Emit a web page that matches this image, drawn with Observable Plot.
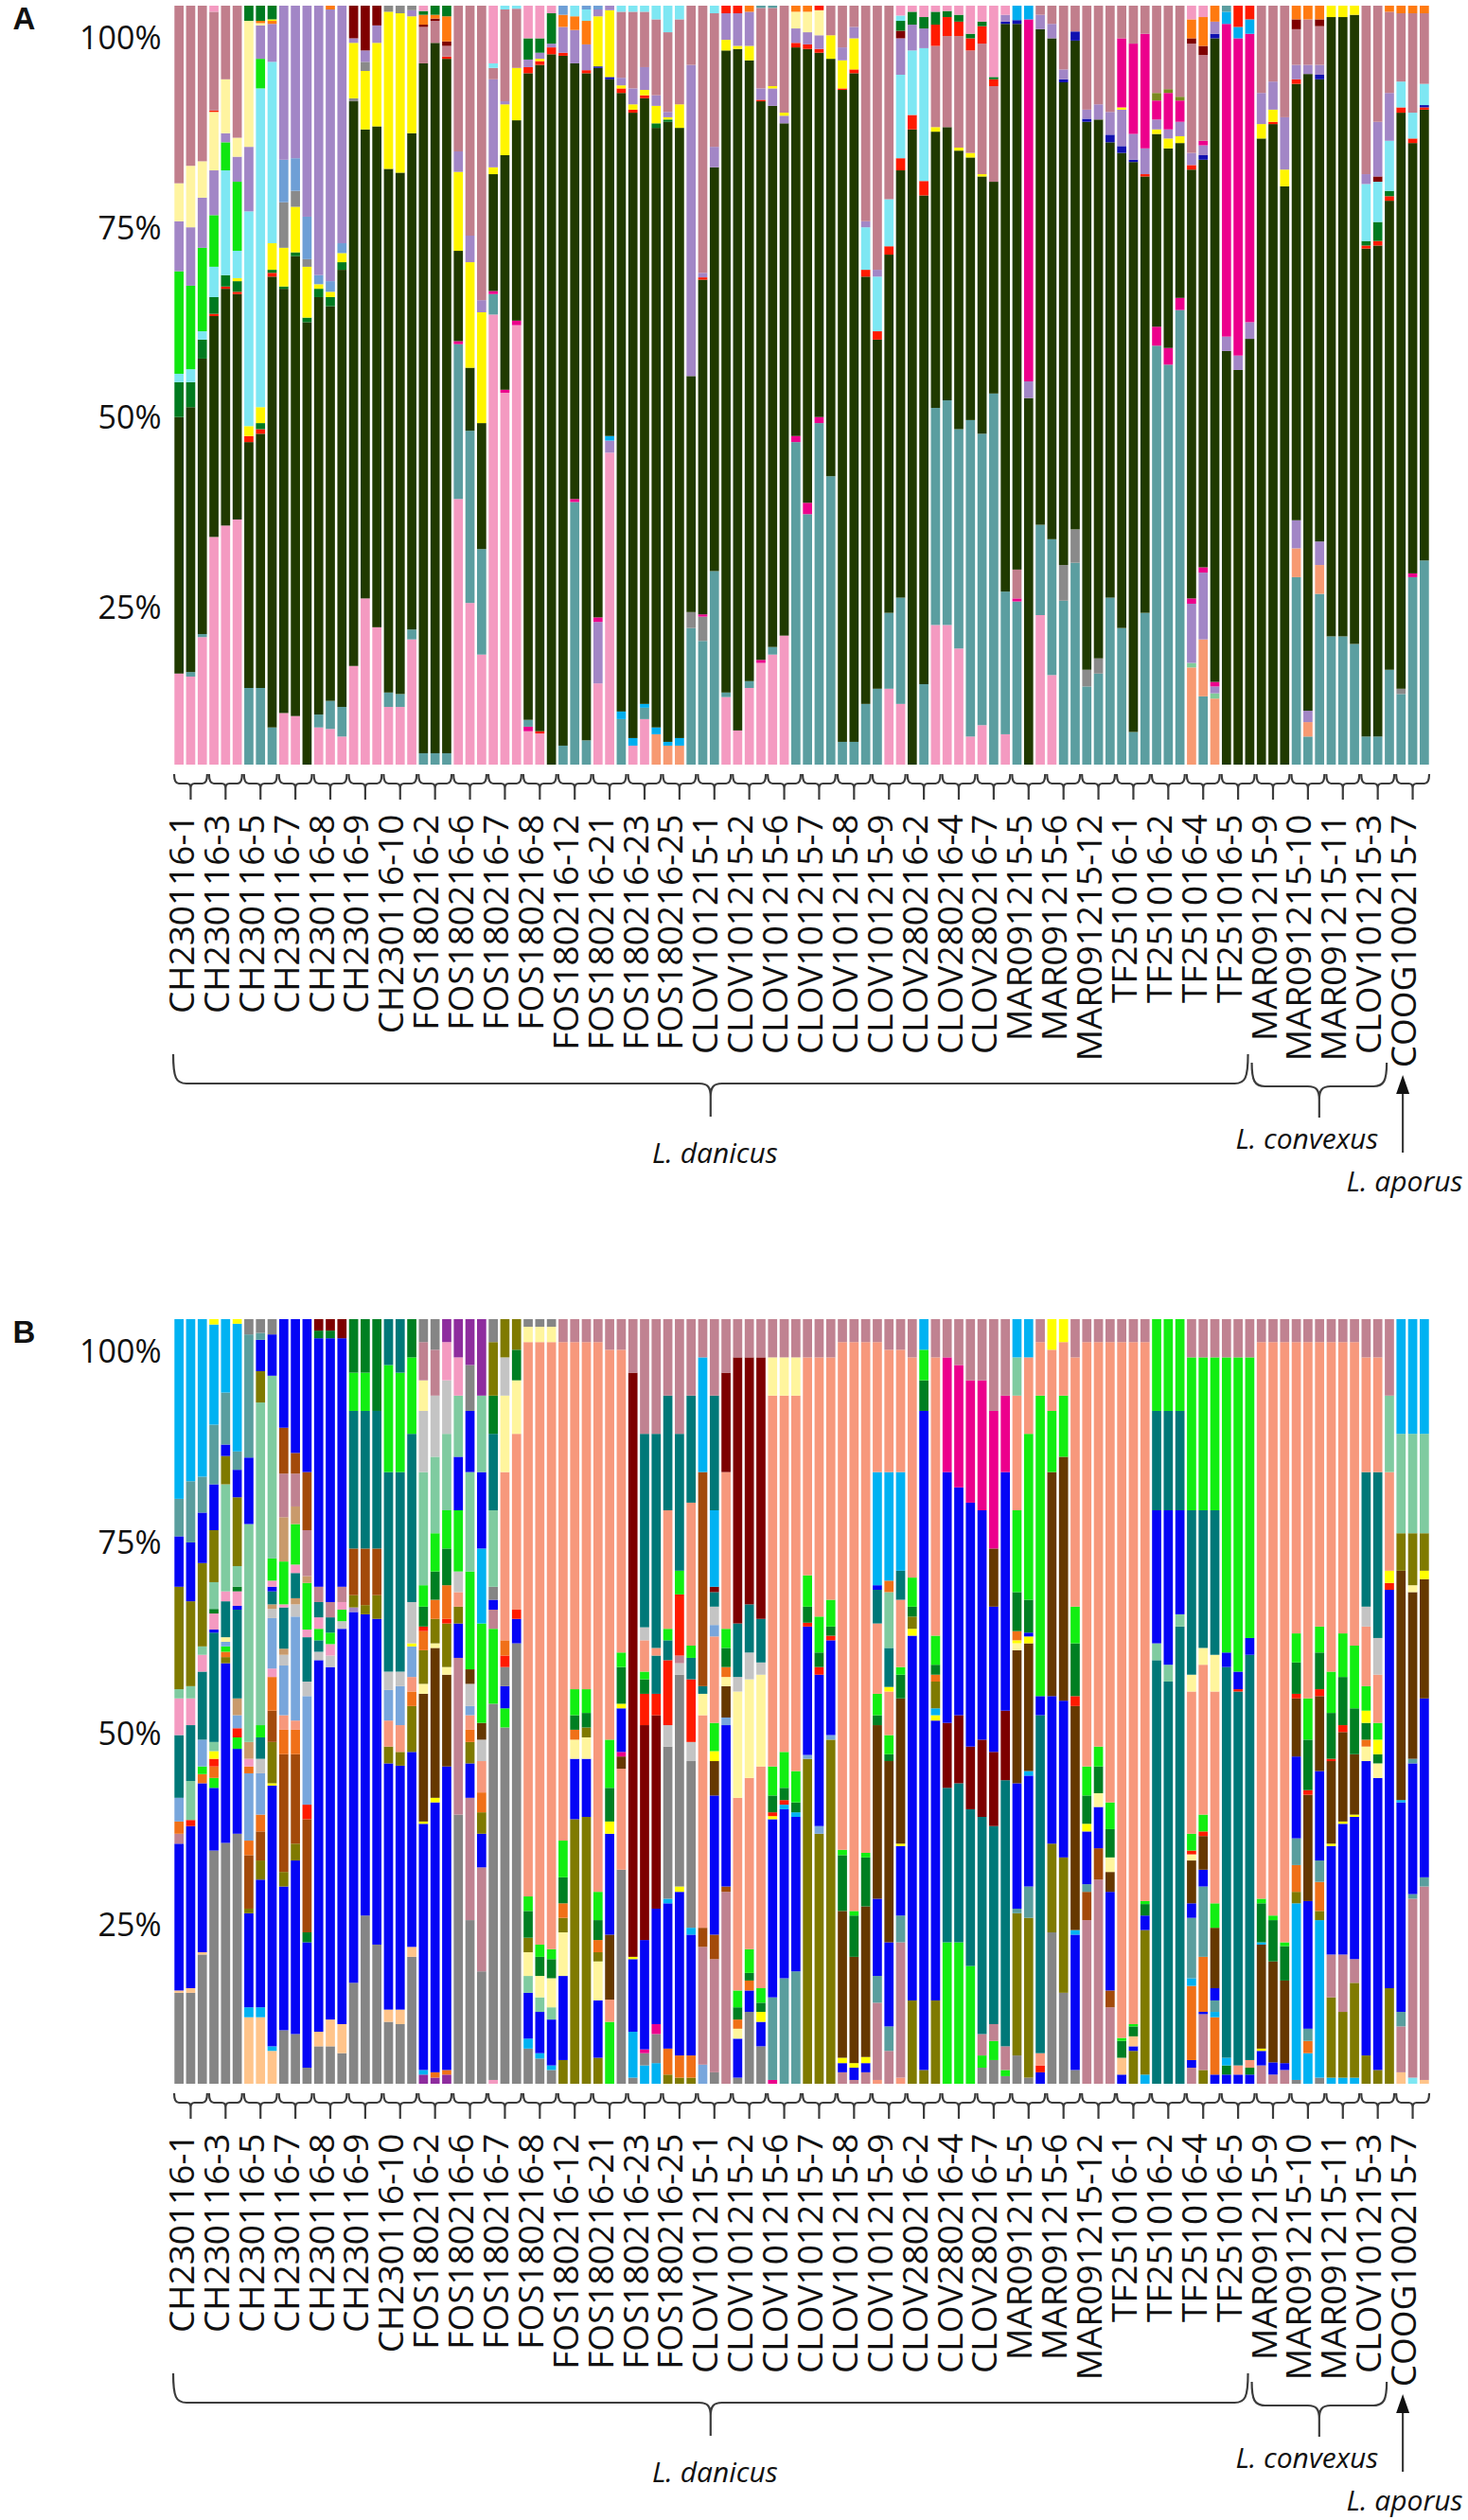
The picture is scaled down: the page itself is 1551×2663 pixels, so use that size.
<!DOCTYPE html>
<html><head><meta charset="utf-8">
<script src="https://cdn.jsdelivr.net/npm/d3@7"></script>
<script src="https://cdn.jsdelivr.net/npm/@observablehq/plot@0.6"></script>
<style>
html,body{margin:0;padding:0;background:#fff;}
#chart{width:1551px;}
#chart svg{display:block;}
</style></head><body><div id="chart"></div>
<script>
// ---------- categories ----------
const samples = ["CH230116-1","CH230116-3","CH230116-5","CH230116-7","CH230116-8","CH230116-9","CH230116-10",
"FOS180216-2","FOS180216-6","FOS180216-7","FOS180216-8","FOS180216-12","FOS180216-21","FOS180216-23","FOS180216-25",
"CLOV101215-1","CLOV101215-2","CLOV101215-6","CLOV101215-7","CLOV101215-8","CLOV101215-9",
"CLOV280216-2","CLOV280216-4","CLOV280216-7","MAR091215-5","MAR091215-6","MAR091215-12",
"TF251016-1","TF251016-2","TF251016-4","TF251016-5","MAR091215-9","MAR091215-10","MAR091215-11",
"CLOV101215-3","COOG100215-7"];
const species = [
  {name:"L. danicus", first:0, last:30},
  {name:"L. convexus", first:31, last:34},
  {name:"L. aporus", first:35, last:35}
];
const yTicks = [25, 50, 75, 100];

// ---------- taxon colours ----------
const colorsA = {pk:"#F49AC1", te:"#5B9EA0", sa:"#F79A72", sk:"#00AEEF", gy:"#8A8A8A", lv:"#A286C6", mg:"#EC008C",
 dg:"#203A00", rd:"#FF1A00", gn:"#007A1F", ye:"#FFF500", sb:"#6E9FD6", cy:"#7EE7F3", bg:"#10E610", ly:"#FFF4A0",
 mv:"#C17E8C", or:"#FF7A10", dr:"#7F0000", db:"#1010B0", ol:"#7A8A20", mt:"#80CC99"};
const colorsB = {gy:"#858585", bl:"#0505F5", sk:"#00B2F2", tb:"#5A9E9E", ol:"#7F7A00", dt:"#007878", mt:"#7FCBA0",
 lb:"#78A6DC", or:"#F07018", br:"#A34A0A", db:"#663800", dr:"#7D0000", sa:"#F7987C", bg:"#12EE12", gn:"#007F22",
 ly:"#FFF59D", pc:"#FFC48A", mv:"#C08291", pk:"#F49AC1", hp:"#EC008C", rd:"#FF1A00", lg:"#C4C4C4", tn:"#C99A6B",
 pu:"#8E2C9E", ye:"#FFFF00", lv:"#A286C6", cy:"#7EE7F3"};

// ---------- panel A: cumulative segment tops (%) per bar, bottom -> top ----------
const A_CH = [
"pk12 dg45.8 gn50.4 cy51.5 bg65 lv71.6 ly76.6 mv100",
"pk11.6 te12.2 dg47.1 gn50.4 cy52.1 bg63.1 lv70.8 ly78.9 mv100",
"pk16.8 te17.2 dg53.5 gn56 cy57.1 bg68.1 lv74.7 ly79.5 mv100",
"pk30 dg59.1 rd59.4 gn61.6 cy65.6 bg72.4 lv78.3 ly86 rd86.2 mv99.2 pk100",
"pk31.5 dg62.7 rd63 gn64.5 cy78.3 bg82 lv83.2 ly90.3 mv100",
"pk32.3 dg62 rd62.3 gn63.7 ye64.1 cy67.7 bg76.8 lv80.1 ly82.6 mv100",
"te10.1 dg42.5 rd43.3 ye44.6 cy72.9 lv81.4 ly98 gn100",
"te10.1 dg43.6 rd44.2 gn45 ye47.1 cy89.1 bg93 lv97.4 ly97.7 or98 gn100",
"te4.9 dg64.3 rd64.8 gn65.2 ye68.7 cy92.6 lv97.6 or98 ye98.2 gn100",
"pk6.8 dg62.7 gn63 ye68.1 gy74.1 sb79.7 lv100",
"pk6.4 dg67 gn67.5 ye73.5 gy75.6 sb79.9 lv100",
"dg58.3 gn58.9 ye65.6 gy66.6 sb72.2 lv100",
"pk4.9 te6.6 dg61.6 gn62.7 ye63.3 sb64.5 lv100",
"pk4.7 te8.4 dg60.4 gn61.6 ye62.3 sb63.7 lv99.5 or100",
"pk3.7 te7.6 dg65.2 gn66.2 ye67.4 sb68.7 lv100",
"pk13 dg87.4 gy87.8 ye95.1 lv95.7 dr100",
"pk21.9 dg83.7 ye91.4 gy92.6 lv94.1 dr100",
"pk18.1 dg84.1 ye95.1 lv97.4 dr100",
"pk7.6 te9.5 dg78.5 ye99.2 gy100",
"pk7.6 te9.3 dg78 ye99 gy100",
"pk16.5 te17.8 dg83.2 ye98.6 lv99.4 gy100"];
const A_FOS = [
"te1.5 dg92.4 mv97.2 dr97.5 or98.8 gn99.3 pk100",
"te1.5 dg95.1 mv98 dr98.3 or98.8 gn100",
"te1.5 dg93 rd93.3 mv94.7 dr95.3 or98.6 gn100",
"pk35 te55.4 mg55.8 dg67.7 ye78.1 lv80.8 mv100",
"pk21.3 te44 dg52.3 ye66.2 lv69.7 mv100",
"pk14.5 te28.4 dg45 ye59.6 lv61.2 mv100",
"pk59.3 te62 mg62.4 dg77.8 ye78.7 lv90.3 mv91.8 cy92.4 pk100",
"pk49 mg49.4 dg80.3 ye87 lv87.4 mv99.5 cy100",
"pk57.9 mg58.5 dg84.9 ye91.8 mv99.6 cy100",
"pk4.4 mg5 te5.9 dg91.1 rd91.9 lv92.9 gn95.7 pk100",
"pk4.1 rd4.4 dg92.2 rd92.7 ye93 lv93.8 gn95.7 pk100",
"dg93.6 rd94.5 lv95 gn99 pk100",
"te2.5 dg93.4 rd93.8 lv97.2 or98.8 sb100",
"te34.6 mg35 dg92.4 lv96.8 or98.6 cy100",
"te3.2 dg91.1 rd91.5 lv94.9 or98 cy99.5 sb100",
"pk10.7 lv18.8 mg19.4 dg91.8 db92 ye98.6 lv99.5 sb100",
"pk41.1 lv42.7 sk43.3 dg90.3 db90.6 ye99.4 lv100",
"te6 sk7 dg88.5 rd89.1 ye89.5 lv90.5 mv99.2 cy100",
"pk2.5 sk3.5 dg85.9 rd86.3 ye87 lv89.1 mv99.2 cy100",
"pk6 te7.5 sk8 dg87.8 rd88.2 ye88.9 lv91.9 mv99.2 cy100",
"sa4 sk4.9 dg83.9 gn84.5 ye86.8 lv88.2 mv98.2 cy100",
"sa2.5 sk3 dg84.7 gn85 ye85.3 lv86 mv96.5 cy100",
"sa2.5 sk3.5 dg83.9 ye87 mv98.2 cy100",
"te18 gy20.1 dg51.2 lv92.2 mv100"];
const A_CLOV1 = [
"te16.3 gy19.5 mg19.8 dg63.9 rd64.2 lv64.8 mv100",
"te25.5 dg78.7 lv81.4 mv99 cy100",
"pk8.9 te9.5 dg94.1 ye95.5 lv99 rd100",
"pk4.5 dg94.3 ye94.7 lv99 rd100",
"pk10.1 te11 dg92.8 ye94.7 lv99.2 or100",
"pk13.4 mg13.8 dg87.4 rd87.6 lv89.1 mv99.7 te100",
"pk14.5 te15.5 dg86.8 lv89.1 ye89.4 mv99.7 te100",
"pk17 dg84.5 lv85.5 ye85.9 mv100",
"te42.5 mg43.3 dg94.5 rd95.1 lv97 ly99.2 or100",
"te33 mg34.5 dg94.3 rd94.9 lv96.5 ly99.2 or100",
"te45 mg45.8 dg93.8 rd94.3 lv96.1 ly99.4 rd100",
"te38 dg93 ye96.1 mv100",
"te3 dg88.9 rd89.1 ye92.8 lv94.5 mv100",
"te3 dg91.1 rd91.6 ye95.7 lv97.2 mv100",
"te8 dg64.3 rd65.2 cy70.8 lv71.6 mv100",
"te10 dg56 rd57.1 cy64.3 lv65.2 mv100",
"pk10 te20 dg67.2 rd68.3 cy74.5 mv100",
"pk8 te22 dg78.3 rd79.9 cy90.9 lv95.7 dr96.7 gn98 cy98.7 pk100"];
const A_CLOV2 = [
"dg83.7 rd85.6 cy94.1 lv97.5 gn99.2 pk100",
"te10.6 dg75 rd76.9 cy94.4 lv97 gn98.5 pk100",
"pk18.4 te47 dg83.4 ye84 mv94.7 rd97.5 gn99.2 pk100",
"pk18.4 te48 dg84 mv96 rd98.5 gn99.3 pk100",
"pk15.3 te44.2 dg80.9 ye81.3 mv96 rd97.9 gn98.8 pk100",
"pk3.7 te45.4 dg80 ye80.6 mv94.1 rd95.7 gn96.3 pk100",
"pk5.2 te43.6 dg77.5 ye77.8 mv95 rd97.3 gn97.9 pk100",
"te48.9 dg76.8 mv89.4 rd90.3 gn90.6 pk100",
"pk4 te22.8 dg97.6 db97.9 lv98.8 pk100"];
const A_MAR1 = [
"te21.5 mg21.9 mv25.7 dg97.6 db98.1 sk100",
"dg48.3 lv50.5 mg98.2 sk100",
"pk19.7 te31.6 dg96.9 lv98.8 mv100",
"pk11.8 te29.7 dg95.7 lv97.6 mv100",
"te21.6 gy26.3 dg89.9 db90.3 lv91.6 mv100",
"te26.6 gy31 dg95.4 db96.6 mv100",
"te10.3 gy12.5 dg84.7 db85.1 lv86.3 mv100",
"te12 gy14 dg85 lv87 mv100",
"te22 dg82 db83 lv86 mv100"];
const A_TF = [
"te18 dg80.6 db81.5 lv86.3 ye86.6 mg95.7 mv100",
"te4.3 dg79.4 db79.7 lv83.1 mg95 mv100",
"te20 dg77.5 rd77.8 lv81.2 mg96.3 mv100",
"te55.2 mg57.7 dg83.1 ye83.7 lv85 mg87.5 ol88.5 mv100",
"te52.7 mg54.9 dg81.2 ye82.5 lv83.7 mg88.5 ol89 mv100",
"te59.9 mg61.5 dg81.9 ye82.8 lv84.7 mg87.5 ol88 mv100",
"sa12.8 mt13.4 lv21.2 mg21.9 dg78.4 rd79 lv80.6 mv95 dr95.7 or98.2 pk100",
"te9 sa16.5 lv25.3 mg26 dg79.7 db80.3 lv81.6 mg82.2 mv93.5 dr94.7 or98.5 pk100",
"sa8.7 mt9.4 lv10.3 mg10.9 dg95.7 db96.3 lv97.9 or100",
"dg54.5 lv56.4 mg97.6 sk99.2 te100",
"dg52 lv53.9 mg95.7 sk97.2 rd100",
"dg56.1 lv58.3 mg96.3 sk98.2 rd100"];
const A_MAR2 = [
"dg82.5 ye84.4 lv88.5 mv100",
"dg84.4 rd84.7 ye86.3 lv90 mv100",
"dg76.2 ye78.4 lv85.3 mv100",
"te24.7 sa28.5 lv32.2 dg89.7 rd90.3 lv92.2 mv96.9 dr98.2 or100",
"te3.7 sa5.6 lv7.1 dg91 lv92.2 mv98.2 or100",
"te22.5 sa26.3 lv29.4 dg90.3 db90.9 lv92.2 mv97.3 dr98.2 or100",
"te16.9 dg98.5 ye100",
"te16.9 dg98.5 ye100",
"te15.9 dg98.8 ye100"];
const A_CLOV3 = [
"te3.7 dg68 rd68.4 gn69 cy76.5 lv77.8 mv100",
"te3.7 dg68.4 rd69 gn71.5 cy76.8 dr77.5 lv84.7 mv100",
"te12.5 dg74.3 rd74.9 gn75.6 cy82.2 lv88.5 mv99.2 or100"];
const A_COOG = [
"te9.3 gy10 dg85.9 rd86.6 cy90 mv99 or100",
"te24.7 mg25.2 dg81.9 rd82.5 cy85.9 mv99 or100",
"te26.9 dg86.3 rd86.6 db86.9 cy89.7 mv99 or100"];

// ---------- panel B ----------
const B_CH = [
"gy11.9 pc12.2 bl31.4 mv32.7 or34.3 lb37.4 dt45.6 pk50.4 mt51.6 ol65 bl71.6 tb76.5 sk100",
"gy11.9 pc12.5 bl33.7 rd34.5 mt39.6 dt46.9 pk50.4 mt52 ol63.1 bl70.8 tb78.8 sk100",
"gy16.9 pc17.2 bl39.3 or40.5 bg41.5 lb45 dt53.9 pk56.1 mt57.2 ol68.1 bl74.7 tb79.4 sk100",
"gy30.5 bl38.7 bg40 or41.5 rd42.5 ye43.5 mt44.7 dt59 bl59.4 pk61.5 gn62.1 mt65.6 ol72.4 bl78.4 tb86.2 sk99.3 ye100",
"gy31.5 bl55 ol55.8 or56.5 bg57.2 lb57.8 ly58.4 dt63.1 pk64.4 mt78.4 ol82.1 bl83.6 tb90.4 sk100",
"gy32.7 bl43.8 bg45.3 rd46.5 lb48.2 tn50.4 dt62 bl62.5 pk64.4 gn65 mt67.7 ol76.7 bl80.3 tb82.7 sk99.4 ye100",
"pc8.7 sk10 bl22.3 ol22.9 br29.9 or31.8 lb40.6 or41.5 pk42.5 tn44.7 mt73.2 bl81.9 tb98 gy100",
"pc8.7 sk10 bl26.7 ol29.2 br33 or35.2 lb40.6 lg42.5 dt45.3 bg46.9 mt89.1 ol93.2 bl97.3 tb98.2 gy100",
"pc4.3 sk4.9 bl39 ye39.3 ol44.7 br48.8 or53.2 pk54.3 lb60.9 lg62.1 tn62.7 dt64.4 bl65 pk65.8 bg68.7 mt92.6 bl98 gy100",
"gy7 bl25.8 ol27.7 br43.1 or46.3 sa48.2 lb54.7 lg56.1 tn56.9 dt62.3 pk62.7 bg68.3 tn74.1 mv79.8 br85.8 bl100",
"gy6.5 bl29.2 ol31.4 br43.1 or46.3 sa47.5 lb61.1 lg62.7 tn63.5 dt66.8 pk67.9 bg73.2 tn75.5 mv79.8 br82.5 bl100",
"gy2.1 bl18.5 gn19.8 br34.6 rd36.5 lb50.7 lg52.6 dt58.4 pk59.4 bg65.5 tn66.4 mv72.4 br80 bl100",
"gy4.9 pc6.8 bl55.4 lg56.5 dt58 bg59.5 pk61 dt63 mv65 bl97.5 gn98.5 dr100",
"gy4.9 pc8.4 bl54.5 lg56 pk57.5 bg59 dt61 mv63 bl97.5 gn98.5 dr100",
"gy4 pc7.8 bl59.5 lg60.5 bg62 pk63 mv65 bl97.5 dr100",
"gy13.2 bl61.7 lv62.3 ol63.9 br70 dt88 bg93 gn100",
"gy22 bl61.4 ol62.6 br70 dt88 bg93 gn100",
"gy18.2 bl60.8 ol63.9 br70 dt88 gn100",
"gy8.1 pc9.7 bl41.9 ol44.1 sa47.5 lb51.5 lg53.9 dt80 bg94 dt100",
"gy7.8 pc9.7 bl41.6 ol43.4 sa46.9 lb52 lg53.9 dt80 bg93 dt100",
"gy16.6 pc17.9 bl43.4 ol49.4 or51.3 sa53.2 lb57.2 ye57.6 lg63 dt85 bg95 gn100"];
const B_FOS = [
"pu1.2 sk1.8 bl34 ye34.3 db51 ly52.3 ol56.7 or59.2 rd59.8 gn62.4 bg65.2 mt80 lg88 ly92 mv97 gy100",
"pu0.8 or1.5 bl36.8 ye37.4 db57 ly57.6 ol60.8 or63.3 gn67 bg72 mt82 lg90 mv96 gy100",
"pu1.2 or1.8 bl41.5 db53.5 ly54.5 ol60.2 rd60.8 or65.2 gn70 bg75 mt85 lg92 pk97 pu100",
"gy35.2 mv55.7 bl60.2 ol62.4 sa64.3 lg67 bg75 bl82 mt90 pk95 pu100",
"gy21.4 mv37.4 bl41.9 ol44.7 or46.3 sa48.2 lb49.4 lg52.3 db54.2 bg67 mt80 bl88 gy94 pu100",
"gy14.7 mv28.3 bl32.7 ol35.5 or38.1 sa42.2 lg45 db47.2 bg60.2 sk70 bl80 mt90 pu100",
"pk0.5 gy49.7 bg59.5 mv62 bl63.3 gy65 mt75 dt85 gn90 ol97 gy100",
"gy46.6 bg49.1 bl52 gy54.5 rd56 or58 sa80 ly90 lg95 ol100",
"gy57.6 bl60.8 rd62 sa85 ly92 gn96 ol100",
"gy4.6 sk5.9 bl11.9 mt14.1 ly17.2 ol19.1 gn22.6 bg24.5 sa97 ly99 gy100",
"gy3.3 sk4 bl9.4 mt11.3 ly14.1 gn16.6 bg18.2 sa97 ly99 gy100",
"gy1.8 sk2.4 bl8.4 mt10 ly13.8 gn16.3 bg17.6 sa97 ly99 gy100",
"ol3.1 bl14.1 ly19.8 ol21.7 or23.6 gn27 bg31.8 sa97 mv100",
"ol34.6 bl42.5 ly45 or46.3 gn48.2 bg51.6 sa97 mv100",
"ol34.9 bl42.5 ly45.3 ol46.6 gn48.5 bg51.6 sa97 mv100",
"ol3.4 bl10.9 ly16 ol17.2 or18.8 gn21.4 bg25.1 sa97 mv100",
"bg8.1 sa11 db19.5 bl32.7 ye34.3 gn38.7 bg45 sa96 mv100",
"gy28 sa41.2 db42.8 hp43.4 bl49.1 ye49.7 gn54.5 bg56.4 sa96 mv100",
"gy0.8 sk6.8 bl16.3 ye16.6 dr93 mv100",
"sk2.4 gy4 hp4.5 bl18.8 dr46.9 rd51 gn52.9 bg53.9 sa58 lg59.7 dt85 mv100",
"sk2.7 gy6.5 hp7.8 bl22.9 dr48.2 rd51 dt56 sa57 dt85 mv100",
"ol1.2 or4.6 bl23.6 sk24.2 gy44.1 lg46.9 rd55.4 dt58 bg59.5 sa75 dt90 mv100",
"ol0.8 or3.7 bl25.1 ye25.8 gy53.5 lg55 mv56 rd64 bg67.1 dt85 mv100",
"ol0.8 or3.7 bl19.5 sk20.4 gy42.2 lg44.7 rd52.9 dt55.7 bg57.3 sa76 dt90 mv100"];
const B_CLOV1 = [
"lb2.5 mv17.9 br20.4 sa48.2 ly51 dt52 br80 sk95 mv100",
"gy1.5 mv16.3 br19.5 bl37.7 db42.2 ye43.5 bg47.2 sa58.5 lb60 lg62.4 dt64.3 dr65 sk75 dt90 mv100",
"mv25.1 br25.8 bl46.9 lb47.9 db52 ly53.2 or54.5 gn57 bg59.5 sa80 dr93 mv100",
"gy0.8 bl5.9 ly7.2 or8.4 gn10 bg12.2 sa37.4 ly51.3 lg53.2 dt60.2 dr95 mv100",
"gy9.4 bl12.2 or13.5 gn14.5 bg17.6 sa40 ly52.9 lg56.4 dt62.7 dr95 mv100",
"gy4.9 bl8.1 ye9.4 gn10.6 bg12.5 sa41.5 ly53.5 lg55.1 dt60.8 dr95 mv100",
"hp0.5 tb11.3 bl34.6 ye35 rd35.5 gn37.7 bg41.5 sa90 ly95 mv100",
"tb13.8 bl35.9 sk36.5 rd37.1 gn38.7 bg43.4 sa90 ly95 mv100",
"tb14.7 bl34.9 sk35.5 gn36.8 bg40.9 sa90 ly95 mv100",
"ol42.5 lb43 bl59.8 rd60.3 gn62.4 bg66.5 sa95 mv100",
"ol32.7 lb33.7 bl53.5 rd54.5 gn56.4 bg61.1 sa95 mv100",
"ol45 lb45.6 bl58 rd58.6 gn59.8 bg63.3 sa95 mv100",
"mv1.5 bl2.7 ye3.4 db22.6 gn29.9 bg30.6 sa97 mv100",
"mv0.5 bl2.1 ye2.7 db16.6 gn22 bg22.6 sa97 mv100",
"mv1.5 bl2.7 ye3.5 db23.2 gn29.6 bg30.2 sa97 mv100",
"sa0.5 mv10.6 tb14.1 bl24.2 db46.9 gn48.2 bg51 sa60.2 dt64.6 bl65.2 sk80 sa97 mv100",
"mv4.3 tb7.5 bl18.5 db42.2 gn43.1 bg45.6 sa51.3 ye51.9 dt57 mt64.3 or65.8 sk80 sa96 mv100",
"sa0.8 mv18.5 tb22 bl31.1 ye31.4 db50.4 gn53.5 bg54.5 sa63.3 dt67.1 sk80 sa96 mv100"];
const B_CLOV2 = [
"ol10.9 bl58.6 ye59.5 ol61.1 gn62.4 bg66.2 sa95 mv100",
"ol1.8 bl88 gn92 bg96 sk100",
"ol10.9 bl47.5 ye48.2 sk49.1 ol52.6 or53.5 gn54.8 bg58.6 sa95 mv100",
"bg18.5 dt38.7 dr47.2 bl80 hp95 mv100",
"bg18.5 dt39.3 dr48.2 bl78 hp94 mv100",
"bg15.4 dt35.9 dr44.1 bl76 hp92 mv100",
"gy2.1 bg3.7 mv6.5 dt34.9 dr45 bl75 hp92 mv100",
"gy3.1 bg5.6 mv7.8 dt33.7 dr43.4 bl62.4 db70 hp88 mv100",
"gy1 bg1.8 mv4.9 dt39.7 dr48.8 bl80 hp90 mv100"];
const B_MAR1 = [
"gy3.7 ol22.3 tb22.9 bl39.3 db56.7 ly57.6 ye58 or59.2 gn64.3 bg75 sa90 mt95 sk100",
"gy0.8 ol21.7 tb25.8 bl40.3 sk40.9 db57.6 ye58.5 bl59 gn63.3 bg85 sa95 sk100",
"bl1.5 rd2.4 sa4 dt48.2 bl50.7 bg90 sa97 mv100",
"gy19.8 ol31.4 bl50.7 db80 bg88 sa96 ye100",
"gy11.9 ol29.6 bl50.1 db82 bg90 sa97 ye100",
"gy1.8 bl19.5 sk20.1 db49.4 rd50.7 gn57.6 bg62.4 sa95 mv100",
"mv21.4 br25.1 tb26.1 bl33 ye34 gn37.7 bg41.5 sa97 mv100",
"mv26.7 br30.8 bl36.2 ly38 gn41.5 bg44.1 sa97 mv100",
"mv10 br12.2 bl25.1 db27.7 ly29.6 gn33.3 bg36.8 sa97 mv100"];
const B_TF = [
"bl1.2 pc3.4 gn5.6 bg6 sa97 mv100",
"ol4.3 bl4.9 pc6.2 gn7.5 bg7.8 sa97 mv100",
"sk1.2 ol20.1 bl22 gn23.5 bg23.9 sa97 mv100",
"dt55.4 mt57.6 bl75 dt88 bg100",
"dt52.6 mt54.8 bl75 dt88 bg100",
"dt59.8 mt61.4 bl75 dt88 bg100",
"mv2.1 bl3.1 or12.8 sk13.8 tb21.7 bl23.6 db29.2 ly30 rd30.5 bg32.7 sa51.3 ly53.5 dt75 bg95 mv100",
"ol1.8 mv9.1 bl9.4 or16.6 tb25.8 bl28 db32.4 rd33 bg35.2 sa54.8 ly57 dt75 bg95 mv100",
"bl1.2 or8.7 sk9.4 tb10.9 bl12.5 db20.4 bg23.6 sa51.3 ly56.1 dt75 bg95 mv100",
"bl1.2 gn2.4 sk3.4 dt54.5 bl56.4 bg95 mv100",
"bl1.2 sa2.4 dt51.3 rd51.6 bl53.9 bg95 mv100",
"bl1.2 gn2.1 sa3.1 dt56.1 bl58.3 bg95 mv100"];
const B_MAR2 = [
"mv2.4 bl4.3 ye4.6 db18.2 sk18.5 gn23.6 bg24.2 sa97 mv100",
"mv1.2 bl2.8 db16 gn21.4 bg22 sa97 mv100",
"mv1.8 bl2.7 db13.5 gn18 bg18.5 sa97 mv100",
"gy0.5 sk23.6 ol25.1 or28.6 tb32.1 bl42.8 db50.4 rd51 gn55.1 bg58.9 sa97 mv100",
"sk4 or5.6 tb7.2 bl23.9 db37.8 rd38.4 gn45 bg50.4 sa97 mv100",
"gy0.8 sk21.4 ol22.6 or26.4 tb29.2 bl40.9 db50.7 rd51.6 gn56.4 bg59.8 sa97 mv100",
"sk0.8 ol11.3 mv16.9 bl31.1 ye31.4 db42.2 rd42.5 gn48.5 bg53.9 sa97 mv100",
"sk0.8 ol9.4 mv16.9 bl34 ye34.3 db46 rd46.9 gn53.2 bg58.9 sa97 mv100",
"sk0.8 ol13.2 mv16.3 bl34.9 ye35.2 db43.1 gn49.1 bg57.3 sa97 mv100"];
const B_CLOV3 = [
"ol3.7 bl42.2 ly44.1 or45 gn47.2 ye48.8 bg52 sa59.8 lg62.4 dt80 sa95 mv100",
"ol1.8 bl40 ly41.9 gn43.1 ye45 bg47.2 sa53.5 lg58.3 dt80 sa95 mv100",
"ol12.5 bl64.6 rd65.5 ye67.1 sa80 mt90 mv100"];
const B_COOG = [
"pc1.5 mv7.5 tb9.4 bl36.8 sk37.1 db67.1 ol72 mt85 sk100",
"cy0.8 mv24.2 tb24.8 bl41.9 tb42.5 db64.3 ly65.2 ol72 mt85 sk100",
"pc0.5 mv25.8 tb27 bl50.4 db66 ye67.1 ol72 mt85 sk100"];

// ---------- build tables ----------
function segments(groups) {
  const out = [];
  groups.flat().forEach((s, bar) => {
    let prev = 0;
    s.trim().split(/\s+/).forEach(tok => {
      const m = tok.match(/^([a-z]+)([\d.]+)$/);
      const top = +m[2];
      if (top > prev) out.push({bar, code: m[1], y1: prev, y2: top});
      prev = Math.max(prev, top);
    });
  });
  return out;
}
const segsA = segments([A_CH, A_FOS, A_CLOV1, A_CLOV2, A_MAR1, A_TF, A_MAR2, A_CLOV3, A_COOG]);
const segsB = segments([B_CH, B_FOS, B_CLOV1, B_CLOV2, B_MAR1, B_TF, B_MAR2, B_CLOV3, B_COOG]);
const nBars = samples.length * 3;

// braces, arrow (annotation drawn with the x scale)
function annotations(index, scales, values, dims) {
  const x = scales.x;
  const yb = dims.height - dims.marginBottom;
  const g = d3.create("svg:g").attr("fill", "none").attr("stroke", "#3c3c3c").attr("stroke-width", 2.2);
  // per-sample braces
  samples.forEach((s, i) => {
    const xl = x(3 * i) + 1, xr = x(3 * i + 3) - 1, xc = (xl + xr) / 2;
    const yt = yb + 10, yh = yb + 20, yk = yb + 37;
    g.append("path").attr("d",
      `M${xl},${yt} Q${xl},${yh} ${xl + 5},${yh} L${xc - 4},${yh} Q${xc},${yh} ${xc},${yh + 5} L${xc},${yk}` +
      ` M${xc},${yh + 5} Q${xc},${yh} ${xc + 4},${yh} L${xr - 5},${yh} Q${xr},${yh} ${xr},${yt}`);
  });
  // species braces
  const big = (xl, xr, ytop, yh, ytick) => {
    const xc = (xl + xr) / 2;
    g.append("path").attr("d",
      `M${xl},${ytop} C${xl},${yh - 6} ${xl + 3},${yh} ${xl + 14},${yh} L${xc - 12},${yh} C${xc - 3},${yh} ${xc},${yh + 4} ${xc},${yh + 14} L${xc},${ytick}` +
      ` M${xc},${yh + 14} C${xc},${yh + 4} ${xc + 3},${yh} ${xc + 12},${yh} L${xr - 14},${yh} C${xr - 3},${yh} ${xr},${yh - 6} ${xr},${ytop}`);
  };
  big(x(3 * species[0].first), x(3 * species[0].last + 3) - 8, yb + 306, yb + 337, yb + 372);
  big(x(3 * species[1].first) - 4, x(3 * species[1].last + 3) - 9, yb + 315, yb + 340, yb + 373);
  // arrow to L. aporus
  const xa = x(3 * species[2].first) + 8;
  g.append("line").attr("x1", xa).attr("x2", xa).attr("y1", yb + 410).attr("y2", yb + 342);
  g.append("path").attr("fill", "#111").attr("stroke", "none")
    .attr("d", `M${xa - 7},${yb + 348} L${xa},${yb + 328} L${xa + 7},${yb + 348} Z`);
  return g.node();
}

function panel(segs, colors, letter, height, marginBottom) {
  const codes = Object.keys(colors);
  const dCenter = (species[0].first * 3 + species[0].last * 3 + 3) / 2;
  const cCenter = (species[1].first * 3 + species[1].last * 3 + 3) / 2;
  return Plot.plot({
    width: 1551, height,
    marginLeft: 183, marginRight: 40, marginTop: 6, marginBottom,
    style: {fontFamily: "'Open Sans', sans-serif", background: "#fff", color: "#111", overflow: "visible"},
    x: {domain: [0, nBars], axis: null},
    y: {domain: [0, 100], axis: null},
    color: {type: "ordinal", domain: codes, range: codes.map(c => colors[c])},
    marks: [
      Plot.rect(segs, {x1: d => d.bar, x2: d => d.bar + 1, y1: "y1", y2: "y2", fill: "code",
        insetLeft: 1.3, insetRight: 1.3}),
      Plot.text(yTicks, {x: 0, y: d => d, text: d => d + "%", textAnchor: "end", dx: -13, dy: 35,
        fontSize: 34}),
      Plot.text(samples, {x: (d, i) => 3 * i + 1.5, text: d => d, frameAnchor: "bottom", rotate: -90,
        textAnchor: "end", dy: 52, dx: 3, fontSize: 37}),
      Plot.text([letter], {frameAnchor: "top-left", text: d => d, dx: -170, dy: 1, lineAnchor: "top",
        textAnchor: "start", fontSize: 33, fontWeight: "bold", fontFamily: "'Liberation Sans', Arial, sans-serif"}),
      Plot.text([species[0].name], {x: dCenter, text: d => d, frameAnchor: "bottom", dy: 420,
        lineAnchor: "bottom", fontSize: 30, fontStyle: "italic"}),
      Plot.text([species[1].name], {x: cCenter, text: d => d, frameAnchor: "bottom", dx: -20, dy: 405,
        lineAnchor: "bottom", fontSize: 30, fontStyle: "italic"}),
      Plot.text([species[2].name], {frameAnchor: "bottom-right", text: d => d, dx: 34, dy: 450,
        lineAnchor: "bottom", textAnchor: "end", fontSize: 30, fontStyle: "italic"}),
      annotations
    ]
  });
}

const chart = document.getElementById("chart");
chart.append(panel(segsA, colorsA, "A", 1388, 580));
chart.append(panel(segsB, colorsB, "B", 1275, 461));
</script></body></html>
